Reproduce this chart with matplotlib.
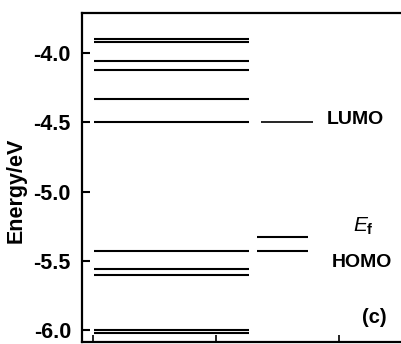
import matplotlib
matplotlib.use("Agg")
import matplotlib.pyplot as plt

# Data: energy levels (eV)
left_levels = [-3.90, -3.92, -4.06, -4.12, -4.33, -4.50, -5.43, -5.56, -5.60, -6.00, -6.02]
right_levels = [-4.50, -5.33, -5.43]
ytick_values = [-4.0, -4.5, -5.0, -5.5, -6.0]
ytick_labels = ["-4.0", "-4.5", "-5.0", "-5.5", "-6.0"]
xtick_values = [0, 1, 2]

plt.rcParams['font.family'] = ['Liberation Sans', 'DejaVu Sans']
plt.rcParams['mathtext.fontset'] = 'custom'
plt.rcParams['mathtext.it'] = 'Liberation Sans:italic'
plt.rcParams['mathtext.rm'] = 'Liberation Sans:bold'

fig = plt.figure(figsize=(4.01, 3.44), dpi=100)
ax = fig.add_axes([82/401, 1 - 342/344, 1 - 82/401, (342 - 12.5)/344])

for e in left_levels:
    ax.plot([0.01, 1.27], [e, e], color='black', lw=1.5, solid_capstyle='butt')
for i, e in enumerate(right_levels):
    if i == 0:
        ax.plot([1.37, 1.79], [e, e], color='black', lw=1.2, solid_capstyle='butt')
    else:
        ax.plot([1.33, 1.75], [e, e], color='black', lw=1.5, solid_capstyle='butt')

ax.set_xlim(-0.089, 2.504)
ax.set_ylim(-6.085, -3.708)
ax.set_yticks(ytick_values)
ax.set_yticklabels(ytick_labels, fontsize=15.5, fontweight='bold')
ax.set_xticks(xtick_values)
ax.set_xticklabels([])
ax.tick_params(axis='y', direction='in', length=6, width=1.5, pad=8)
ax.tick_params(axis='x', direction='in', length=5, width=1.2)
ax.spines['right'].set_visible(False)
for s in ['left', 'top', 'bottom']:
    ax.spines[s].set_linewidth(1.6)

ax.set_ylabel("Energy/eV", fontsize=15.5, fontweight='bold')
ax.yaxis.set_label_coords(-0.175, 0.46)

ax.text(1.90, -4.48, "LUMO", fontsize=14, fontweight='bold', va='center', ha='left')
ax.text(1.94, -5.51, "HOMO", fontsize=14, fontweight='bold', va='center', ha='left')
ax.text(2.11, -5.25, r"$E_\mathrm{f}$", fontsize=15, va='center', ha='left')
ax.text(2.19, -5.905, "(c)", fontsize=14.5, fontweight='bold', va='center', ha='left')

fig.savefig("out.png", dpi=100)
